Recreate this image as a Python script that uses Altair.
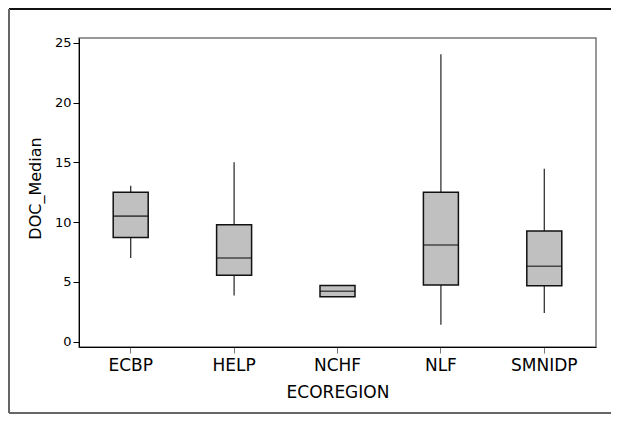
import altair as alt
import pandas as pd

categories = ["ECBP", "HELP", "NCHF", "NLF", "SMNIDP"]
whisker_low = [7.0, 3.85, 3.74, 1.42, 2.4]
q1 = [8.7, 5.55, 3.76, 4.74, 4.68]
median = [10.5, 7.0, 4.22, 8.08, 6.3]
q3 = [12.5, 9.78, 4.7, 12.5, 9.25]
whisker_high = [13.04, 15.0, 4.72, 24.05, 14.46]
y_ticks = [0, 5, 10, 15, 20, 25]

df = pd.DataFrame({
    "ECOREGION": categories,
    "low": whisker_low,
    "q1": q1,
    "median": median,
    "q3": q3,
    "high": whisker_high,
})

FONT = "DejaVu Sans"
W, H = 517, 309
PL, PT, PR, PB = 71, 30, 15, 67

x_enc = alt.X("ECOREGION:N", sort=categories,
              scale=alt.Scale(paddingInner=0, paddingOuter=0),
              axis=alt.Axis(title="ECOREGION", labelAngle=0, labelFontSize=17,
                            titleFontSize=17, titleFontWeight="normal",
                            tickColor="#777777", tickSize=6, labelPadding=4,
                            titlePadding=11, domainColor="black", labelColor="black",
                            titleColor="black"))
y_scale = alt.Scale(domain=[-0.45, 25.4], nice=False, zero=False)
y_axis = alt.Axis(title="DOC_Median", values=y_ticks, labelFontSize=13,
                  titleFontSize=16, titleFontWeight="normal", tickSize=6,
                  tickColor="black", domainColor="black", labelPadding=2,
                  titlePadding=11, titleY=150, grid=False, labelColor="black",
                  titleColor="black")

base = alt.Chart(df)

whiskers = base.mark_rule(color="#333333", strokeWidth=1.3).encode(
    x=x_enc,
    y=alt.Y("low:Q", scale=y_scale, axis=y_axis),
    y2="high:Q",
)

boxes = base.mark_bar(size=35, fill="#c0c0c0", stroke="#111111", strokeWidth=1.5).encode(
    x=x_enc,
    y=alt.Y("q1:Q", scale=y_scale, axis=y_axis),
    y2="q3:Q",
)

medians = base.mark_tick(size=35, thickness=1.6, color="#111111", orient="horizontal").encode(
    x=x_enc,
    y=alt.Y("median:Q", scale=y_scale, axis=y_axis),
)

frame_data = alt.Data(values=[{"k": 1}])
frame_top = alt.Chart(frame_data).mark_rule(color="#111111", strokeWidth=2).encode(
    x=alt.value(-PL + 1), x2=alt.value(W + PR + 2), y=alt.value(-PT + 1))
frame_left = alt.Chart(frame_data).mark_rule(color="#666666", strokeWidth=2).encode(
    x=alt.value(-PL + 1), y=alt.value(-PT + 1), y2=alt.value(H + PB - 1))
frame_bottom = alt.Chart(frame_data).mark_rule(color="#666666", strokeWidth=2).encode(
    x=alt.value(-PL + 1), x2=alt.value(W + PR + 2), y=alt.value(H + PB - 1))

chart = alt.layer(whiskers, boxes, medians, frame_top, frame_left, frame_bottom).properties(
    width=W, height=H,
    autosize=alt.AutoSizeParams(type="none"),
    padding={"left": PL, "top": PT, "right": PR, "bottom": PB},
).configure(font=FONT).configure_view(
    stroke="#777777", strokeWidth=1.5
).configure_axis(labelFont=FONT, titleFont=FONT)

chart.save("out.html", embed_options={"renderer": "svg", "actions": False})
